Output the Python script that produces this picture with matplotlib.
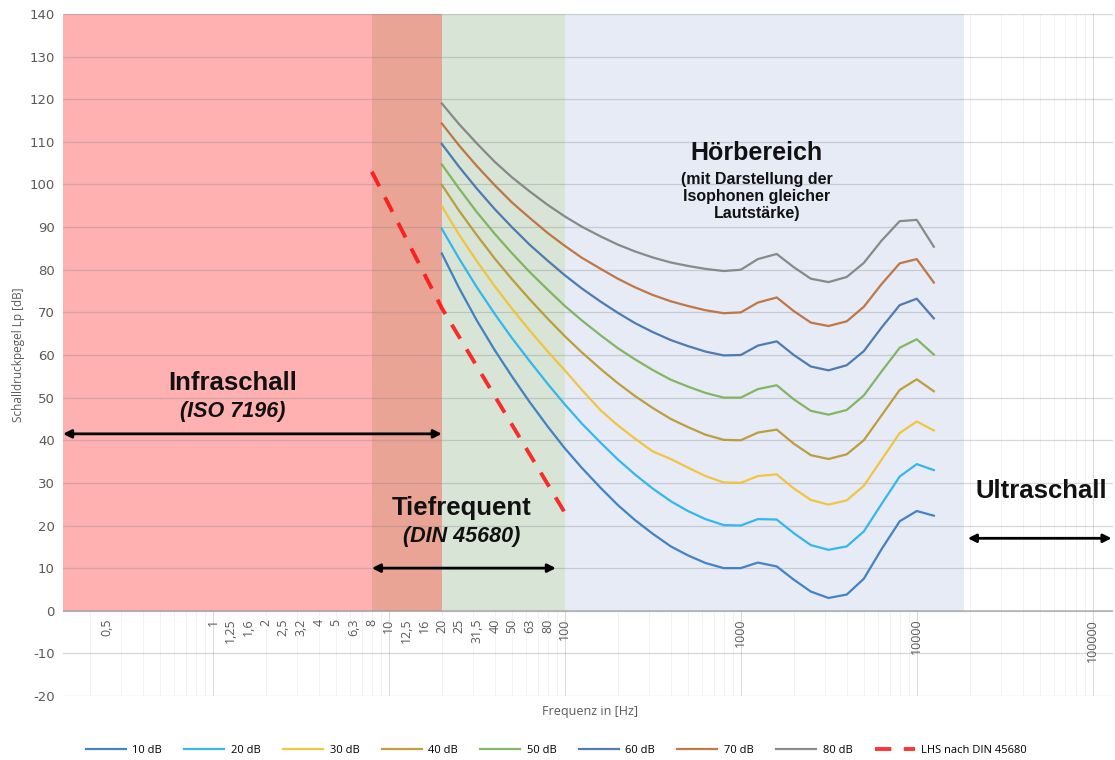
import numpy as np
import matplotlib.pyplot as plt
from matplotlib.ticker import LogLocator, NullFormatter

plt.rcParams["axes.unicode_minus"] = False

# Terzband-Mittenfrequenzen der Isophonen
freq = [20, 25, 31.5, 40, 50, 63, 80, 100, 125, 160, 200, 250, 315, 400, 500,
        630, 800, 1000, 1250, 1600, 2000, 2500, 3150, 4000, 5000, 6300, 8000,
        10000, 12500]

iso_10 = [83.8, 75.8, 68.2, 61.1, 55.0, 49.0, 43.2, 38.1, 33.5, 28.8, 24.8, 21.3,
          18.1, 15.1, 13.0, 11.2, 10.0, 10.0, 11.3, 10.4, 7.3, 4.5, 3.0, 3.8, 7.5,
          14.4, 21.0, 23.4, 22.3]
iso_20 = [89.6, 82.7, 76.0, 69.6, 64.0, 58.6, 53.2, 48.4, 43.9, 39.4, 35.5, 32.0,
          28.7, 25.7, 23.4, 21.5, 20.1, 20.0, 21.5, 21.4, 18.2, 15.4, 14.3, 15.1,
          18.6, 25.0, 31.5, 34.4, 33.0]
iso_30 = [94.9, 88.3, 82.1, 76.1, 70.9, 65.8, 60.8, 56.4, 51.8, 47.0, 43.5, 40.4,
          37.4, 35.6, 33.6, 31.6, 30.1, 30.0, 31.6, 32.0, 28.7, 26.0, 24.9, 25.9,
          29.3, 35.4, 41.7, 44.4, 42.3]
iso_40 = [99.9, 93.9, 88.2, 82.6, 77.8, 73.1, 68.5, 64.4, 60.6, 56.7, 53.4, 50.4,
          47.6, 45.0, 43.1, 41.3, 40.1, 40.0, 41.8, 42.5, 39.2, 36.5, 35.6, 36.7,
          40.0, 45.8, 51.8, 54.3, 51.5]
iso_50 = [104.7, 99.1, 93.6, 88.4, 83.9, 79.5, 75.3, 71.5, 68.1, 64.6, 61.6, 59.0,
          56.5, 54.2, 52.6, 51.1, 50.0, 50.0, 52.0, 52.9, 49.6, 46.9, 46.0, 47.1,
          50.5, 56.1, 61.7, 63.7, 60.1]
iso_60 = [109.5, 104.2, 99.1, 94.2, 90.0, 85.9, 82.1, 78.7, 75.6, 72.5, 69.9, 67.5,
          65.4, 63.5, 62.1, 60.8, 59.9, 60.0, 62.2, 63.2, 60.0, 57.3, 56.4, 57.6,
          60.9, 66.4, 71.7, 73.2, 68.6]
iso_70 = [114.3, 109.2, 104.4, 99.8, 95.8, 92.2, 88.6, 85.6, 82.8, 80.2, 77.9, 75.9,
          74.1, 72.6, 71.5, 70.5, 69.8, 70.0, 72.3, 73.5, 70.3, 67.6, 66.8, 67.9,
          71.3, 76.6, 81.5, 82.5, 77.0]
iso_80 = [119.0, 114.2, 109.7, 105.3, 101.7, 98.4, 95.2, 92.5, 90.1, 87.8, 85.9, 84.3,
          82.9, 81.7, 80.9, 80.2, 79.7, 80.0, 82.5, 83.7, 80.6, 77.9, 77.1, 78.3,
          81.6, 86.8, 91.4, 91.7, 85.4]

# Hoerschwelle nach DIN 45680
lhs_freq = [8, 20, 100]
lhs_level = [103, 71, 23]

series = [
    ("10 dB", iso_10, "#2F78C0"),
    ("20 dB", iso_20, "#22B2EC"),
    ("30 dB", iso_30, "#F2C12E"),
    ("40 dB", iso_40, "#B8962A"),
    ("50 dB", iso_50, "#78B054"),
    ("60 dB", iso_60, "#3F6FAA"),
    ("70 dB", iso_70, "#BC6A35"),
    ("80 dB", iso_80, "#7F7F7F"),
]

tick_pos = [0.25, 1, 1.25, 1.6, 2, 2.5, 3.15, 4, 5, 6.3, 8, 10, 12.5, 16, 20, 25,
            31.5, 40, 50, 63, 80, 100, 1000, 10000, 100000]
tick_lab = ["0,5", "1", "1,25", "1,6", "2", "2,5", "3,2", "4", "5", "6,3", "8", "10",
            "12,5", "16", "20", "25", "31,5", "40", "50", "63", "80", "100", "1000",
            "10000", "100000"]

x_min, x_max = 0.1406, 1.3e5
y_min, y_max = -20, 140

fig = plt.figure(figsize=(11.15, 7.6), dpi=100)
ax = fig.add_axes([0.0565, 0.0842, 0.9415, 0.8974])
ax.set_xscale("log")
ax.set_xlim(x_min, x_max)
ax.set_ylim(y_min, y_max)
ax.set_axisbelow(True)

# Frequenzbereiche (nur oberhalb 0 dB), ueber dem senkrechten Gitter
yfrac = (0 - y_min) / (y_max - y_min)
ax.axvspan(x_min, 20, ymin=yfrac, ymax=1, color="#FFB1B1", lw=0, zorder=0.8)
ax.axvspan(8, 20, ymin=yfrac, ymax=1, color="#E9A496", lw=0, zorder=0.9)
ax.axvspan(20, 100, ymin=yfrac, ymax=1, color="#D7E4D6", lw=0, zorder=0.8)
ax.axvspan(100, 18500, ymin=yfrac, ymax=1, color="#E6EBF6", lw=0, zorder=0.8)

yticks = np.arange(-20, 141, 10)
ax.set_yticks(yticks)
ax.xaxis.set_major_locator(LogLocator(base=10, numticks=12))
ax.xaxis.set_minor_locator(LogLocator(base=10, subs=np.arange(2, 10), numticks=12))
ax.xaxis.set_major_formatter(NullFormatter())
ax.xaxis.set_minor_formatter(NullFormatter())
ax.grid(axis="x", which="major", color="#D9D9D9", lw=0.7)
ax.grid(axis="x", which="minor", color="#EEEEEE", lw=0.5)
# waagerechte Linien halbtransparent, damit sie auf den Flaechen sichtbar bleiben
for yv in yticks:
    ax.axhline(yv, color="#7F7F7F", alpha=0.3, lw=0.9, zorder=1.0)
ax.axhline(0, color="#9A9A9A", alpha=0.6, lw=1.4, zorder=1.6)
ax.tick_params(axis="both", which="both", length=0)
ax.tick_params(axis="y", labelsize=9.5, labelcolor="#595959", pad=6)
for s in ax.spines.values():
    s.set_visible(False)

for lab, vals, col in series:
    ax.plot(freq, vals, color=col, lw=1.6, alpha=0.9, label=lab, zorder=3)
ax.plot(lhs_freq, lhs_level, color="#FF0000", lw=2.8, ls=(0, (4.2, 3.2)), alpha=0.8,
        label="LHS nach DIN 45680", zorder=3)

for f, lab in zip(tick_pos, tick_lab):
    ax.text(f, -1.9, lab, rotation=90, ha="center", va="top", fontsize=9,
            color="#595959", family="Open Sans")

ax.set_ylabel("Schalldruckpegel Lp [dB]", fontsize=8.5, color="#595959",
              family="Open Sans", labelpad=3)
ax.set_xlabel("Frequenz in [Hz]", fontsize=9, color="#595959", family="Open Sans")
ax.xaxis.set_label_coords(0.502, -0.013)

# Bereichsbeschriftungen
txt = dict(family="Liberation Sans", weight="bold", ha="center", va="center",
           color="#111111")
ax.text(1.29, 53.5, "Infraschall", fontsize=18.5, **txt)
ax.text(1.29, 46.8, "(ISO 7196)", fontsize=15.5, style="italic", **txt)
ax.text(26, 24.0, "Tiefrequent", fontsize=18.5, **txt)
ax.text(26, 17.4, "(DIN 45680)", fontsize=15.5, style="italic", **txt)
ax.text(1233, 107.4, "Hörbereich", fontsize=18, **txt)
ax.text(1233, 97.2, "(mit Darstellung der\nIsophonen gleicher\nLautstärke)",
        fontsize=11.5, linespacing=1.2, **txt)
ax.text(50700, 28.1, "Ultraschall", fontsize=18.5, **txt)

arrow = dict(arrowstyle="<|-|>", color="black", lw=2, mutation_scale=12,
             shrinkA=0, shrinkB=0)
ax.annotate("", xy=(x_min, 41.5), xytext=(20, 41.5), arrowprops=arrow, zorder=4)
ax.annotate("", xy=(8, 10), xytext=(89, 10), arrowprops=arrow, zorder=4)
ax.annotate("", xy=(19500, 17), xytext=(128000, 17), arrowprops=arrow, zorder=4)

fig.legend(loc="center", bbox_to_anchor=(0.499, 0.013), ncol=9, frameon=False,
           handlelength=3.6, columnspacing=2.0, handletextpad=0.6,
           prop={"family": "Open Sans", "size": 8})

fig.savefig("out.png", dpi=100)
